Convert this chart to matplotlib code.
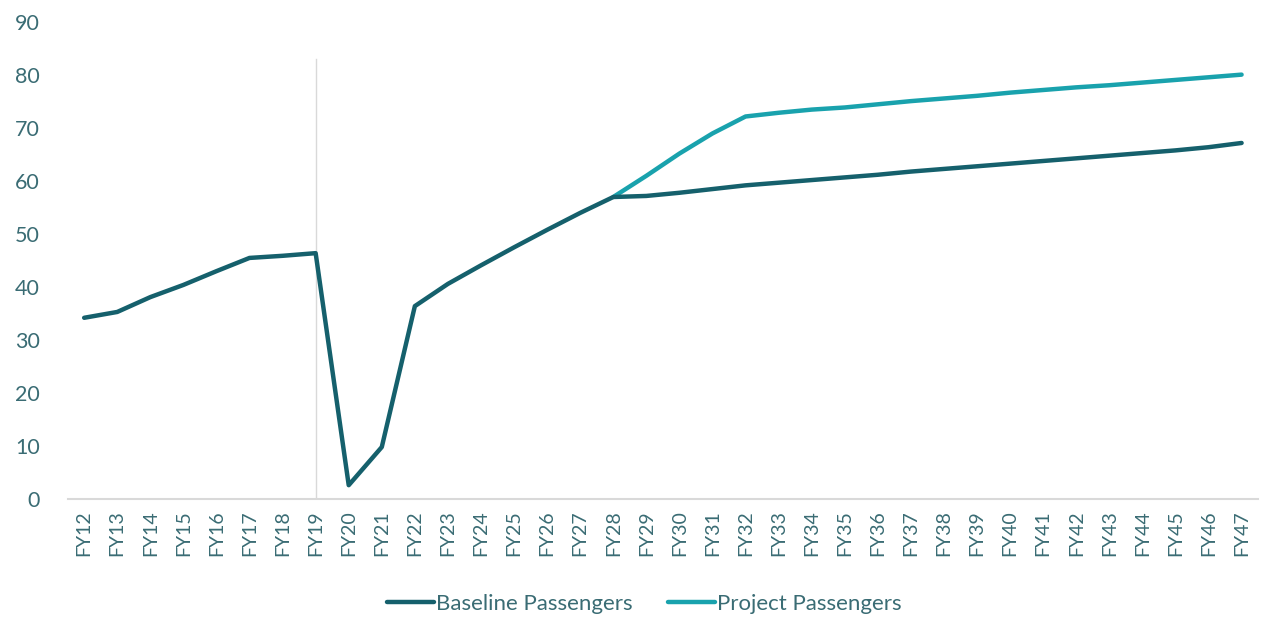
import matplotlib.pyplot as plt

plt.rcParams['font.family'] = ['Lato', 'DejaVu Sans']

years = ["FY" + str(y) for y in range(12, 48)]

baseline = [34.2, 35.3, 38.1, 40.4, 43.0, 45.5, 45.9, 46.4, 2.6, 9.8,
            36.4, 40.6, 44.1, 47.5, 50.8, 54.0, 57.0, 57.2, 57.8, 58.5,
            59.2, 59.7, 60.2, 60.7, 61.2, 61.8, 62.3, 62.8, 63.3, 63.8,
            64.3, 64.8, 65.3, 65.8, 66.4, 67.2]

project_years = years[16:]
project = [57.0, 61.0, 65.2, 69.0, 72.2, 72.9, 73.5, 73.9, 74.5, 75.1,
           75.6, 76.1, 76.7, 77.2, 77.7, 78.1, 78.6, 79.1, 79.6, 80.1]

base_color = "#15606c"
proj_color = "#19a2ad"
text_color = "#3a6c74"

fig = plt.figure(figsize=(12.76, 6.34), dpi=100)
ax = fig.add_axes([0.053, 0.213, 0.933, 0.752])

ax.axvline(years.index("FY19"), ymin=0, ymax=83 / 90, color="#d9d9d9", lw=1, zorder=1)
ax.plot(years, baseline, color=base_color, lw=3.2, label="Baseline Passengers",
        solid_capstyle="round", zorder=3)
ax.plot(project_years, project, color=proj_color, lw=3.2, label="Project Passengers",
        solid_capstyle="round", zorder=2)

ax.set_xlim(-0.5, len(years) - 0.5)
ax.set_ylim(0, 90)
ax.set_yticks(range(0, 91, 10))
for s in ["top", "right", "left"]:
    ax.spines[s].set_visible(False)
ax.spines["bottom"].set_color("#d9d9d9")
ax.spines["bottom"].set_linewidth(1.5)
ax.tick_params(axis="both", length=0, colors=text_color)
ax.tick_params(axis="y", labelsize=15.5, pad=20)
ax.tick_params(axis="x", labelsize=14, rotation=90, pad=8)

fig.legend(loc="lower center", bbox_to_anchor=(0.505, 0.0), ncol=2, frameon=False,
           fontsize=16, labelcolor=text_color, handlelength=2.1, handletextpad=0.1,
           columnspacing=1.6)

fig.savefig("out.png", dpi=100)
